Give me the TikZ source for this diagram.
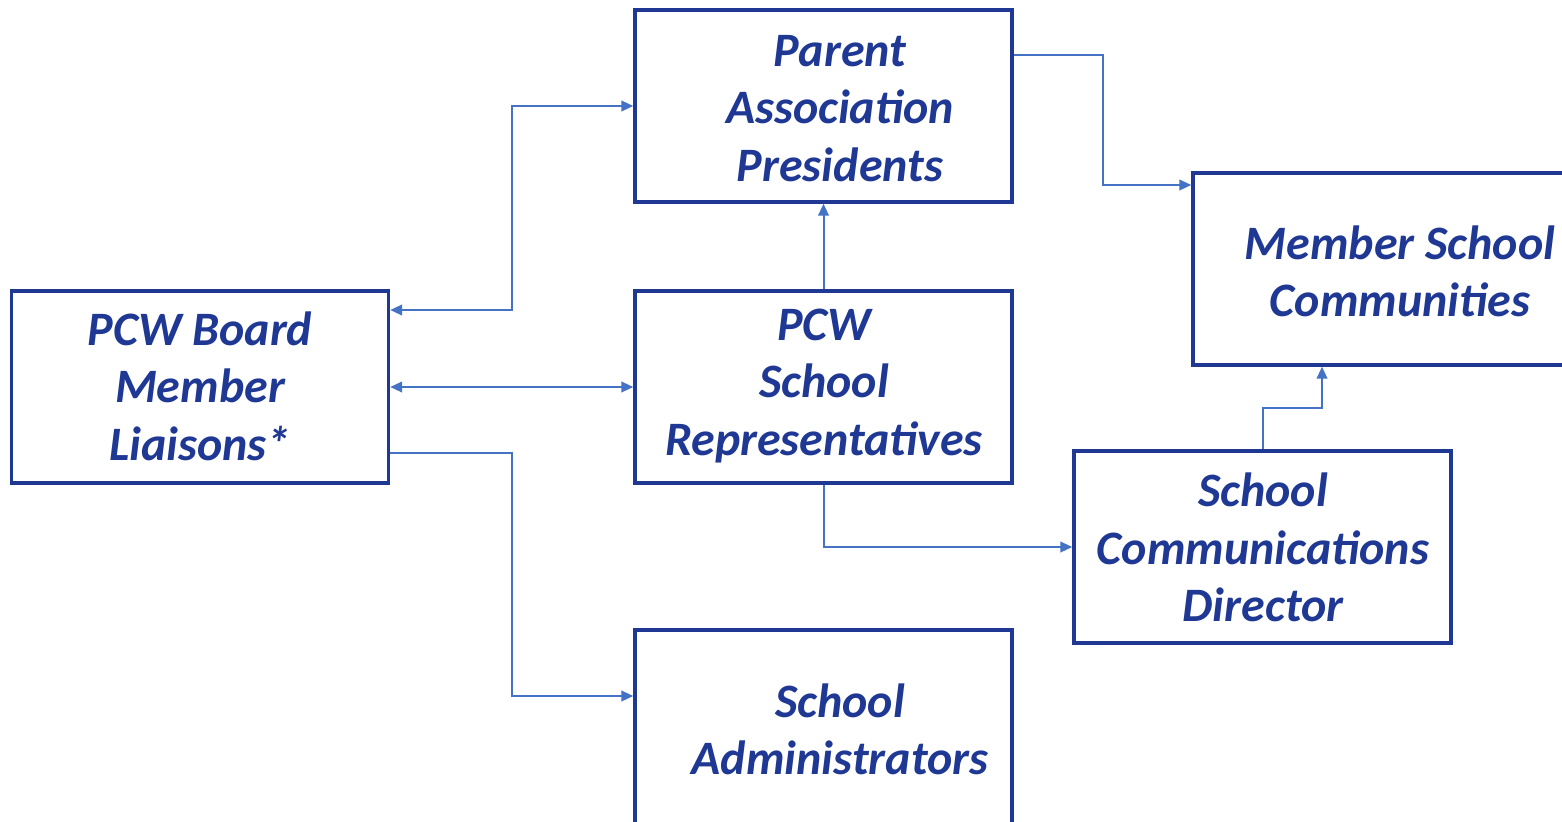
\documentclass[tikz,border=0pt]{standalone}
\usepackage{fontspec}
\setmainfont{Carlito}
\usepackage{tikz}
\usetikzlibrary{calc,positioning,arrows.meta}
\definecolor{boxblue}{RGB}{31,56,148}
\definecolor{linkblue}{RGB}{68,114,196}

\tikzset{
	orgbox/.style={draw=boxblue,line width=2.6pt,minimum width=282.75pt,minimum height=144pt,inner sep=0pt},
	orgtext/.style={align=center,text=boxblue,font=\fontsize{36}{43}\selectfont\bfseries\itshape,inner sep=0pt},
	link/.style={draw=linkblue,line width=1.5pt},
	tip/.tip={Triangle[length=9pt,width=8pt]}
}

\begin{document}
\begin{tikzpicture}[x=0.75pt,y=-0.75pt]
	\useasboundingbox (0,0) rectangle (1562,821);
	% boxes
	\node[orgbox] (pap) at (823.5,106) {};
	\node[orgbox] (board) at (200,387) {};
	\node[orgbox] (rep) at (823.5,387) {};
	\node[orgbox] (msc) at (1381.5,269) {};
	\node[orgbox] (scd) at (1262.5,547) {};
	\node[orgbox,minimum height=150pt] (adm) at (823.5,730) {};
	% texts
	\node[orgtext] (papt) at (840,108.5) {Parent\\Association\\Presidents};
	\node[orgtext] (boardt) at (200,386) {PCW Board\\Member\\Liaisons*};
	\node[orgtext] (rept) at (824,386) {PCW\\School\\Representatives};
	\node[orgtext] (msct) at (1400,271.5) {Member School\\Communities};
	\node[orgtext] (scdt) at (1263,547.5) {School\\Communications\\Director};
	\node[orgtext] (admt) at (840,729) {School\\Administrators};
	% bend points
	\coordinate (midL) at ($(board.east)!0.5!(rep.west)$);
	\coordinate (midR) at ($(pap.east)!0.5!(msc.west)$);
	\coordinate (midC) at ($(scd.north)!0.5!(msc.south)$);
	% connectors
	\draw[link,{tip}-{tip}] ($(board.east)+(0,-77)$) -| (midL |- pap.west) -- (pap.west);
	\draw[link,{tip}-{tip}] (board.east) -- (rep.west);
	\draw[link,-{tip}] ($(board.east)+(0,66)$) -| ($(midL |- adm.west)+(0,-34)$) -- ($(adm.west)+(0,-34)$);
	\draw[link,-{tip}] (rep.north) -- (pap.south);
	\draw[link,-{tip}] ($(pap.east)+(0,-51)$) -| ($(midR |- msc.west)+(0,-84)$) -- ($(msc.west)+(0,-84)$);
	\draw[link,-{tip}] (rep.south) |- (scd.west);
	\draw[link,-{tip}] (scd.north) |- (midC) -- (midC |- msc.south);
\end{tikzpicture}
\end{document}
